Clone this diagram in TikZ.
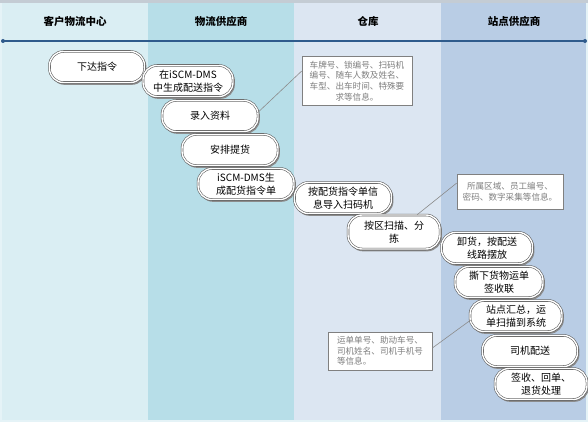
\documentclass[tikz,border=0pt]{standalone}
\usepackage{fontspec}
\setmainfont{Noto Sans CJK SC}
\usetikzlibrary{calc}
\definecolor{colA}{HTML}{DAEEF3}
\definecolor{colB}{HTML}{B7DEE8}
\definecolor{colC}{HTML}{DCE6F2}
\definecolor{colD}{HTML}{B9CDE5}
\definecolor{hdrline}{HTML}{2F5B8C}
\definecolor{topstrip}{HTML}{C4CCD4}
\definecolor{calltext}{HTML}{7F7F7F}
\tikzset{
  pill/.style={draw=black!65, line width=0.55pt, double=white, double distance=1.4pt,
    fill=white, rounded corners=14pt, minimum height=31pt, align=center,
    font=\fontsize{10}{12.5}\selectfont, inner sep=1pt,
    preaction={fill=black!45, draw=black!45, line width=1.5pt, transform canvas={xshift=1.2pt,yshift=-1.6pt}}},
  callout/.style={draw=black!50, line width=0.7pt, fill=white, inner sep=3pt,
    text=calltext, font=\fontsize{8.6}{10.7}\selectfont},
  hdr/.style={font=\fontsize{10.5}{12}\selectfont\bfseries},
  lead/.style={draw=black!45, line width=0.6pt}
}
\begin{document}
\begin{tikzpicture}[x=1pt,y=-1pt]
\useasboundingbox (0,0) rectangle (588,422);
% columns
\fill[colA!70!white] (0,0) rectangle (588,422);
\fill[colA] (2,0) rectangle (148,420);
\fill[colB] (148,0) rectangle (294,420);
\fill[colC] (294,0) rectangle (441,420);
\fill[colD] (441,0) rectangle (586,420);
\fill[topstrip] (0,0) rectangle (588,3);
% headers
\node[hdr] (h1) at (75,21) {客户物流中心};
\node[hdr] (h2) at (221,21) {物流供应商};
\node[hdr] (h3) at (368,21) {仓库};
\node[hdr] (h4) at (514,21) {站点供应商};
\coordinate (l1) at (3,41);
\coordinate (l2) at (585,41);
\draw[hdrline, line width=1.3pt] (l1) -- (l2);
\fill[hdrline] (l1) circle (2pt) (l2) circle (2pt);
% pills
\node[pill, minimum width=95pt] (n1) at (97,67) {下达指令};
\node[pill, minimum width=90pt] (n2) at (188,81) {在iSCM-DMS\\中生成配送指令};
\node[pill, minimum width=96pt] (n3) at (210,116) {录入资料};
\node[pill, minimum width=96pt] (n4) at (230,150) {安排提货};
\node[pill, minimum width=96pt] (n5) at (246,184) {iSCM-DMS生\\成配货指令单};
\node[pill, minimum width=97pt] (n6) at (343,198) {按配货指令单信\\息导入扫码机};
\node[pill, minimum width=92pt, minimum height=34pt] (n7) at (394,232) {按区扫描、分\\拣};
\node[pill, minimum width=91pt] (n8) at (487,248) {卸货，按配送\\线路摆放};
\node[pill, minimum width=88pt] (n9) at (499,282) {撕下货物运单\\签收联};
\node[pill, minimum width=92pt] (n10) at (516,316) {站点汇总，运\\单扫描到系统};
\node[pill, minimum width=95pt] (n11) at (530,351) {司机配送};
\node[pill, minimum width=92pt] (n12) at (541,384) {签收、回单、\\退货处理};
% callouts
\node[callout, minimum width=110pt, minimum height=49pt, align=center] (cA) at (357,81)
  {车牌号、锁编号、扫码机\\编号、随车人数及姓名、\\车型、出车时间、特殊要\\求等信息。};
\node[callout, minimum width=106pt, minimum height=35pt, align=center] (cB) at (510,192)
  {所属区域、员工编号、\\密码、数字采集等信息。};
\node[callout, minimum width=104pt, minimum height=38pt, align=left] (cC) at (380,351)
  {运单单号、助动车号、\\司机姓名、司机手机号\\等信息。};
% leaders
\draw[lead] ($(n3.east)+(-1,-3)$) -- ($(cA.north west)!0.3!(cA.south west)$);
\draw[lead] ($(n7.north)!0.5!(n7.north east)$) -- ($(cB.north west)!0.25!(cB.south west)$);
\draw[lead] ($(cC.east)+(0,-3)$) -- ($(n10.west)+(1,4)$);
\end{tikzpicture}
\end{document}
